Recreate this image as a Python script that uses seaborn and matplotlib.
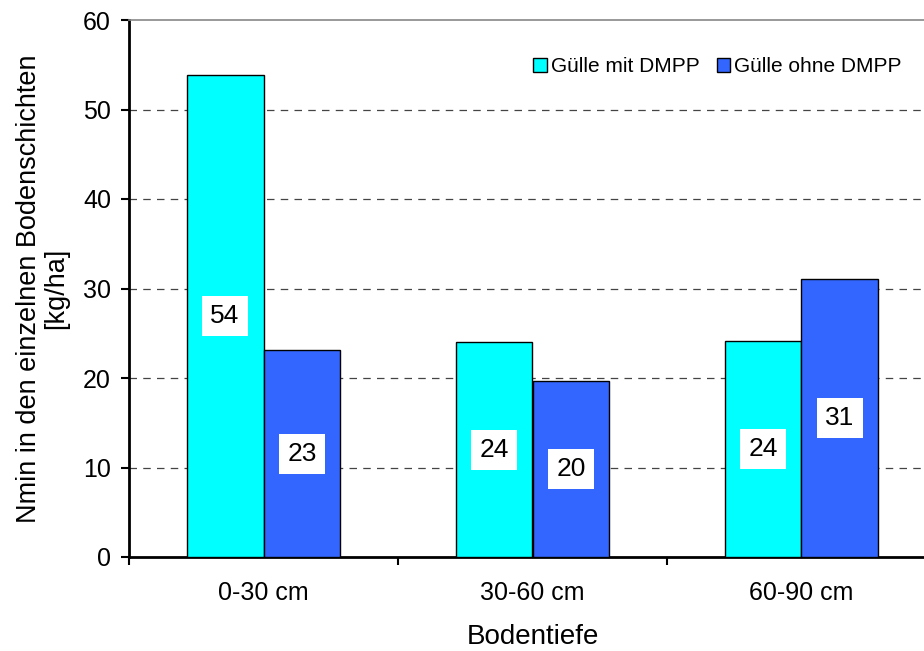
import matplotlib
matplotlib.use("Agg")
import matplotlib.pyplot as plt
from matplotlib.patches import Patch
import seaborn as sns
import pandas as pd

# Soil depth layers and Nmin values (kg/ha) for the two slurry variants
depths = ["0-30 cm", "30-60 cm", "60-90 cm"]
series = ["Gülle mit DMPP", "Gülle ohne DMPP"]
mit_dmpp = [53.8, 24.0, 24.1]
ohne_dmpp = [23.1, 19.7, 31.1]
colors = ["#00FFFF", "#3366FF"]
y_ticks = [0, 10, 20, 30, 40, 50, 60]

df = pd.DataFrame({
    "Bodentiefe": depths * 2,
    "Variante": [series[0]] * 3 + [series[1]] * 3,
    "Nmin": mit_dmpp + ohne_dmpp,
})

sns.set_theme(style="white")
plt.rcParams["font.family"] = ["Liberation Sans", "DejaVu Sans"]
plt.rcParams.update({
    "text.color": "black",
    "axes.labelcolor": "black",
    "xtick.color": "black",
    "ytick.color": "black",
})

fig = plt.figure(figsize=(9.24, 6.51), dpi=100)
ax = fig.add_axes([129 / 924, 1 - 557 / 651, (936 - 129) / 924, (557 - 20) / 651])

sns.barplot(data=df, x="Bodentiefe", y="Nmin", hue="Variante",
            palette=colors, width=0.572, edgecolor="black", linewidth=1,
            saturation=1, legend=False, ax=ax, zorder=3)

ax.set_xlim(-0.5, 2.5)
ax.set_ylim(0, 60)
ax.set_yticks(y_ticks)
ax.set_yticklabels([str(t) for t in y_ticks], fontsize=18)

# Category boundaries carry the ticks, centres carry the labels
ax.set_xticks([-0.5, 0.5, 1.5, 2.5])
ax.set_xticklabels([])
ax.set_xticks([0, 1, 2], minor=True)
ax.set_xticklabels(depths, minor=True, fontsize=18)
ax.tick_params(axis="x", which="major", direction="out", length=6, width=1.5,
               color="black", bottom=True)
ax.tick_params(axis="x", which="minor", length=0, pad=17)
ax.tick_params(axis="y", direction="out", length=6, width=1.5, color="black",
               left=True, pad=7)

# Dashed horizontal grid
for t in y_ticks[1:-1]:
    ax.axhline(t, color="#444444", linestyle=(0, (6, 5)), linewidth=0.9, zorder=1)

for side in ["left", "bottom"]:
    ax.spines[side].set_color("black")
    ax.spines[side].set_linewidth(2)
ax.spines["top"].set_color("#888888")
ax.spines["top"].set_linewidth(1.2)
ax.spines["right"].set_visible(False)

ax.set_ylabel("Nmin in den einzelnen Bodenschichten\n[kg/ha]", fontsize=19.5,
              labelpad=10, linespacing=1.05)
ax.set_xlabel("Bodentiefe", fontsize=20, labelpad=14)

# Value labels in white boxes at bar mid-height
for container in ax.containers:
    for bar in container:
        h = bar.get_height()
        ax.text(bar.get_x() + bar.get_width() / 2, h / 2, f"{h:.0f}",
                ha="center", va="center", fontsize=19, color="black", zorder=5,
                bbox=dict(boxstyle="square,pad=0.3", facecolor="white",
                          edgecolor="none"))

handles = [Patch(facecolor=c, edgecolor="black", linewidth=1) for c in colors]
fig.legend(handles, series, loc="center right", bbox_to_anchor=(0.985, 1 - 67 / 651),
           ncol=2, frameon=False, fontsize=15, handlelength=0.65, handleheight=0.65,
           handletextpad=0.2, columnspacing=0.8, borderaxespad=0)

fig.savefig("out.png", dpi=100)
